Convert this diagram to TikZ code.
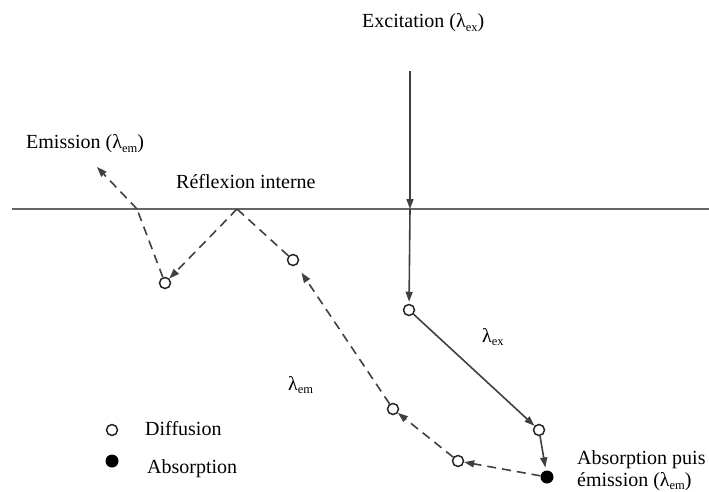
\documentclass[tikz,border=0pt]{standalone}
\usepackage{fontspec}
\setmainfont{Liberation Serif}
\usetikzlibrary{arrows.meta}
\newcommand\lamsub[1]{λ\raisebox{-0.35ex}{\fontsize{12.5}{12.5}\selectfont #1}}
\begin{document}
\begin{tikzpicture}[x=1pt,y=-1pt,
  font=\fontsize{20}{23}\selectfont,
  diff/.style={circle, draw=black!85, line width=1.5pt, fill=white, minimum size=11pt, inner sep=0pt},
  absn/.style={circle, fill=black, minimum size=13pt, inner sep=0pt},
  ray/.style={line width=1.6pt, draw=black!75, -{Triangle[length=10pt,width=7pt]}},
  dray/.style={ray, dash pattern=on 9pt off 6pt},
  surface/.style={draw=black!60, line width=2pt},
  lbl/.style={inner sep=0pt, anchor=base west}]
\useasboundingbox (0,0) rectangle (709,492);

% surface
\coordinate (L) at (12,209);
\coordinate (R) at (709,209);
\draw[surface] (L) -- (R);

% points
\node[diff] (A) at (409,310) {};
\node[diff] (B) at (539,430) {};
\node[absn] (C) at (547,477) {};
\node[diff] (D) at (458,461) {};
\node[diff] (E) at (393,409) {};
\node[diff] (F) at (293,260) {};
\coordinate (G) at (237,209);
\node[diff] (H) at (165,283) {};
\coordinate (S2) at (137,209);
\coordinate (Out) at (97,167);
\coordinate (Ex0) at (410,71);
\coordinate (S1) at (410,209);

% excitation path
\draw[ray] (Ex0) -- (S1);
\draw[ray, shorten >=2pt] (S1) -- (A);
\draw[ray] (A) -- (B);
\draw[ray, shorten >=3pt] (B) -- (C);

% emission path
\draw[dray] (C) -- (D);
\draw[dray] (D) -- (E);
\draw[dray, shorten >=9pt] (E) -- (F);
\draw[dray, -] (F) -- (G);
\draw[dray] (G) -- (H);
\draw[dray, -] (H) -- (S2);
\draw[dray] (S2) -- (Out);

% labels
\node[lbl] (tex) at (362,28) {Excitation (\lamsub{ex})};
\node[lbl] (tem) at (26,149) {Emission (\lamsub{em})};
\node[lbl] (tref) at (176,188) {Réflexion interne};
\node[lbl] (lex) at (482,342) {\lamsub{ex}};
\node[lbl] (lem) at (288,390) {\lamsub{em}};
\node[lbl] (tabs) at (577,464) {Absorption puis};
\node[lbl] (tems) at (577,486) {émission (\lamsub{em})};

% legend
\node[diff] (k1) at (112,430) {};
\node[absn] (k2) at (112,461) {};
\node[lbl] (t1) at (145,435) {Diffusion};
\node[lbl] (t2) at (147,473) {Absorption};
\end{tikzpicture}
\end{document}
